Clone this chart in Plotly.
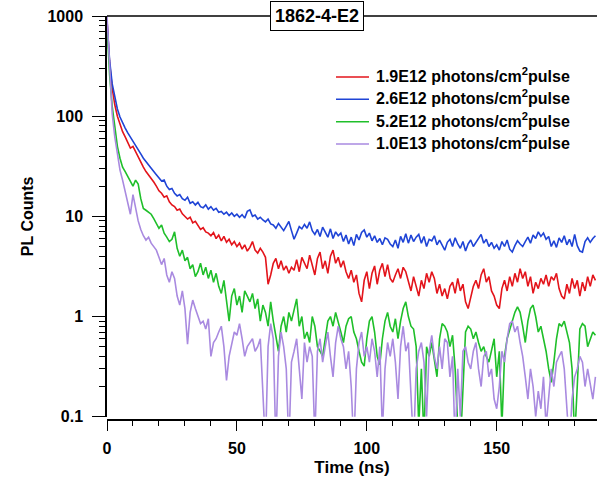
import plotly.graph_objects as go

# ---------------- data ----------------
time_ns = list(range(0, 189))  # 1 ns bins, 0 ... 188 ns

labels = [
    "1.9E12 photons/cm<sup>2</sup>pulse",
    "2.6E12 photons/cm<sup>2</sup>pulse",
    "5.2E12 photons/cm<sup>2</sup>pulse",
    "1.0E13 photons/cm<sup>2</sup>pulse",
]

red_1p9e12 = [
    900, 340, 190, 130, 100, 82, 70, 62, 55, 48,
    50, 44, 40, 35, 31, 28, 26, 24, 22, 20,
    18, 17, 15.5, 16, 14, 13, 12.5, 11.5, 11.8, 10.6,
    10, 9.4, 9.8, 8.6, 8.9, 8.0, 7.4, 7.7, 7.0, 6.8,
    6.4, 6.9, 6.0, 6.5, 5.7, 6.3, 5.5, 5.9, 5.2, 5.6,
    5.0, 5.4, 4.7, 5.2, 4.5, 4.9, 5.6, 4.6, 4.3, 4.8,
    4.4, 3.9, 2.1, 2.6, 3.4, 3.8, 3.0, 3.6, 2.9, 3.2,
    2.7, 3.1, 2.9, 3.7, 2.8, 3.9, 3.4, 3.0, 4.1, 3.3,
    2.6, 3.8, 4.4, 3.0, 3.6, 2.7, 4.0, 4.6, 3.4, 3.9,
    3.1, 3.6, 2.8, 2.4, 2.9, 2.2, 2.6, 1.7, 1.4, 2.3,
    2.8, 1.9, 2.7, 3.2, 2.1, 2.9, 3.4, 2.5, 3.3, 2.4,
    2.2, 2.6, 3.0, 2.4, 3.1, 2.8, 2.2, 1.8, 2.5, 2.0,
    1.6, 2.3, 1.9, 2.7, 2.2, 2.8, 2.4, 1.7, 2.1, 1.6,
    1.9, 1.5, 2.0, 2.2, 1.7, 2.4, 1.8, 2.1, 1.4, 1.2,
    1.6, 2.0, 2.3, 1.9, 2.6, 3.0, 2.2, 2.5, 1.8, 1.6,
    1.3, 1.2, 1.9, 2.3, 1.8, 2.5, 2.0, 2.7, 2.2, 3.0,
    2.4, 2.8, 2.0, 2.5, 1.7, 2.2, 1.9, 2.4, 2.1, 2.6,
    2.0, 2.5, 2.3, 2.7, 1.9, 1.6, 1.5, 2.1, 1.7, 2.4,
    1.9, 2.3, 1.6, 2.2, 1.8, 2.5, 2.0, 2.6, 2.3,
]

blue_2p6e12 = [
    900, 360, 210, 150, 118, 98, 85, 76, 68, 62,
    57, 52, 46, 42, 38, 35, 33, 30, 28, 26,
    24, 22.5, 23, 20, 18.5, 19, 17, 16, 16.5, 15,
    14.5, 15.5, 13.5, 14, 13, 13.8, 12.5, 12.2, 13, 11.8,
    12.5, 11.5, 12, 11, 11.2, 10.5, 11, 10.2, 10.8, 10,
    10.5, 9.8, 10.4, 9.6, 11.2, 11.6, 10, 10.3, 9.4, 9.8,
    9.2, 8.8, 9.4, 8.4, 8.2, 7.6, 8.5, 7.8, 7.2, 8.0,
    8.9, 7.2, 5.9, 6.8, 7.9, 7.5, 8.3, 7.6, 8.8, 7.2,
    6.6, 7.4, 6.3, 7.8, 6.9, 6.2, 7.5, 6.0, 7.0, 6.4,
    6.8, 5.6, 6.5, 5.3, 6.2, 5.1, 6.6, 5.8, 6.9, 7.3,
    6.2, 6.8, 5.7, 6.4, 5.5, 6.0, 5.2, 6.1, 5.9, 5.3,
    5.0, 5.8, 4.8, 6.3, 5.5, 6.7, 5.4, 6.5, 5.6, 6.2,
    6.6, 5.4, 6.3, 5.0, 5.9, 5.7, 6.4, 5.2, 5.8, 5.1,
    4.6, 5.5, 5.9, 5.0, 6.1, 5.3, 4.8, 5.6, 4.5, 5.3,
    5.8, 5.0, 5.5, 6.0, 6.6, 5.4, 5.9, 5.0, 5.5, 4.8,
    5.2, 4.6, 5.6, 5.0, 5.8, 4.7, 4.4, 5.1, 5.7, 5.3,
    5.0, 5.6, 6.2, 5.4, 6.5, 6.0, 7.0, 6.3, 6.8, 5.9,
    6.3, 5.0, 5.7, 4.9, 6.1, 5.5, 6.4, 5.2, 5.9, 5.0,
    6.6, 5.1, 4.5, 4.4, 5.6, 6.1, 5.5, 6.0, 6.4,
]

green_5p2e12 = [
    800, 260, 125, 78, 50, 38, 31, 28, 25, 22,
    20, 23, 21, 15, 12, 11.5, 11, 10.5, 9.5, 8.4,
    7.6, 8.2, 6.8, 6.2, 5.6, 5.9, 7.0, 4.8, 4.0, 4.6,
    3.6, 3.9, 3.0, 3.3, 2.5, 2.8, 3.4, 2.6, 3.1, 2.4,
    2.9, 2.2, 2.7, 2.0, 1.7, 2.3, 1.4, 0.9, 1.6, 1.9,
    1.3, 1.6, 1.1, 1.8, 1.6, 1.4, 1.7, 1.2, 1.5, 0.9,
    1.3, 1.1, 0.8, 1.4, 0.9, 0.6, 0.45, 0.8, 1.0, 0.7,
    1.1, 0.9, 1.2, 1.5, 0.8, 1.0, 0.6, 0.7, 0.55, 1.0,
    0.8, 0.5, 0.45, 0.4, 0.6, 0.9, 1.0, 0.8, 1.1, 0.9,
    0.7, 0.55, 0.8, 0.95, 1.0, 0.7, 0.6, 0.45, 0.35, 0.32,
    0.6, 0.9, 1.0, 0.7, 0.4, 0.33, 0.6, 0.9, 1.1, 0.8,
    0.7, 0.95, 0.6, 0.9, 1.2, 1.4, 1.0, 0.8, 0.75, 0.5,
    0.08, 0.3, 0.06, 0.5, 0.4, 0.55, 0.35, 0.25, 0.6, 0.85,
    0.8, 0.7, 0.5, 0.65, 0.3, 0.08, 0.05, 0.2, 0.7, 0.8,
    0.75, 0.6, 0.7, 0.55, 0.45, 0.5, 0.4, 0.35, 0.45, 0.6,
    0.25, 0.45, 0.08, 0.4, 0.6, 0.75, 0.9, 1.1, 1.25, 1.1,
    0.8, 0.55, 0.9, 1.2, 1.3, 1.0, 0.7, 0.8, 0.6, 0.45,
    0.3, 0.22, 0.35, 0.6, 0.85, 0.8, 0.9, 0.7, 0.55, 0.3,
    0.06, 0.2, 0.75, 0.85, 0.8, 0.5, 0.6, 0.7, 0.65,
]

purple_1p0e13 = [
    1000, 300, 105, 62, 40, 29, 23, 18, 14, 10.5,
    16.5, 12, 9, 7.4, 6.4, 5.8, 6.2, 5.4, 5.0, 4.6,
    3.9, 3.3, 3.8, 2.6, 2.2, 2.8, 2.4, 1.6, 1.3, 1.8,
    1.2, 0.53, 1.1, 1.46, 1.2, 1.0, 0.85, 0.9, 0.75, 0.95,
    0.4, 0.55, 0.6, 0.7, 0.8, 0.5, 0.23, 0.4, 0.55, 0.7,
    0.65, 0.85, 0.6, 0.4, 0.5, 0.55, 0.6, 0.45, 0.5, 0.6,
    0.2, 0.05, 0.5, 0.85, 0.6, 0.05, 0.4, 0.7, 0.5, 0.3,
    0.05, 0.35, 0.45, 0.6, 0.3, 0.15, 0.55, 0.35, 0.5, 0.4,
    0.06, 0.45, 0.6, 0.35, 0.5, 0.7, 0.4, 0.25, 0.55, 0.8,
    0.6, 0.5, 0.3, 0.45, 0.2, 0.05, 0.3, 0.55, 0.7, 0.4,
    0.5, 0.35, 0.6, 0.45, 0.25, 0.5, 0.07, 0.3, 0.55, 0.4,
    0.6, 0.35, 0.15, 0.5, 0.8, 0.45, 0.55, 0.2, 0.05, 0.3,
    0.45, 0.55, 0.35, 0.1, 0.45, 0.65, 0.4, 0.3, 0.5, 0.3,
    0.6, 0.55, 0.25, 0.4, 0.05, 0.3, 0.1, 0.45, 0.5, 0.35,
    0.3, 0.45, 0.55, 0.3, 0.2, 0.4, 0.45, 0.25, 0.3, 0.15,
    0.12, 0.2, 0.45, 0.35, 0.6, 0.85, 0.9, 0.7, 0.8, 0.55,
    0.4, 0.25, 0.15, 0.3, 0.2, 0.1, 0.18, 0.12, 0.25, 0.08,
    0.15, 0.3, 0.2, 0.35, 0.4, 0.45, 0.3, 0.12, 0.05, 0.15,
    0.25, 0.3, 0.4, 0.35, 0.2, 0.3, 0.22, 0.15, 0.25,
]

series = [red_1p9e12, blue_2p6e12, green_5p2e12, purple_1p0e13]
colors = ["#e3141b", "#1f44d6", "#1fbf2a", "#a98ae0"]

sample_title = "1862-4-E2"
x_title = "Time (ns)"
y_title = "PL Counts"
y_tickvals = [0.1, 1, 10, 100, 1000]
y_ticktext = ["0.1", "1", "10", "100", "1000"]

# ---------------- figure ----------------
FONT = "Liberation Sans, Arial, Helvetica, sans-serif"
W, H = 597, 477
ML, MR, MT, MB = 107, 0, 16, 57
PW, PH = W - ML - MR, H - MT - MB


def px_x(px):
    return (px - ML) / PW


def px_y(py):
    return (H - MB - py) / PH


fig = go.Figure()
for name, ys, col in zip(labels, series, colors):
    fig.add_trace(go.Scatter(
        x=time_ns, y=ys, mode="lines", name=name,
        line=dict(color=col, width=1.6),
    ))

fig.update_layout(
    width=W, height=H,
    margin=dict(l=ML, r=MR, t=MT, b=MB),
    paper_bgcolor="white", plot_bgcolor="white",
    font=dict(family=FONT, size=16, color="black", weight="bold"),
    showlegend=False,
    xaxis=dict(
        range=[0, 188.6], anchor="free", position=0,
        showgrid=False, zeroline=False,
        showline=True, linecolor="black", linewidth=1.5,
        ticks="outside", ticklen=10, tickwidth=1.2, tickcolor="black",
        tickmode="array", tickvals=[0, 50, 100, 150],
        ticklabelstandoff=4,
        minor=dict(ticks="outside", ticklen=5, tickwidth=1.2,
                   tickcolor="black", dtick=10, tick0=0, showgrid=False),
        title=dict(text=x_title, standoff=5,
                   font=dict(family=FONT, size=17, weight="bold")),
        tickfont=dict(family=FONT, size=16, weight="bold"),
    ),
    yaxis=dict(
        type="log", range=[-1, 3], domain=[0.0082, 1],
        showgrid=False, zeroline=False,
        showline=True, linecolor="black", linewidth=1.5,
        ticks="outside", ticklen=13, tickwidth=1.2, tickcolor="black",
        tickmode="array", tickvals=y_tickvals, ticktext=y_ticktext,
        ticklabelstandoff=6,
        minor=dict(ticks="outside", ticklen=6, tickwidth=1.0,
                   tickcolor="black", dtick="D1", showgrid=False),
        title=dict(text=y_title, standoff=10,
                   font=dict(family=FONT, size=16, weight="bold")),
        tickfont=dict(family=FONT, size=16, weight="bold"),
    ),
)

# top frame line
fig.add_shape(type="line", xref="paper", yref="paper",
              x0=0, x1=1, y0=1, y1=1,
              line=dict(color="black", width=1.5), layer="above")

# legend (drawn as annotations + sample lines for exact spacing)
legend_rows_px = [77, 99.3, 121.7, 144]
for lab, col, ry in zip(labels, colors, legend_rows_px):
    fig.add_shape(type="line", xref="paper", yref="paper",
                  x0=px_x(336), x1=px_x(369), y0=px_y(ry), y1=px_y(ry),
                  line=dict(color=col, width=1.6))
    fig.add_annotation(
        text=lab, xref="paper", yref="paper",
        x=px_x(374), y=px_y(ry - 2), xanchor="left", yanchor="middle",
        showarrow=False,
        font=dict(family=FONT, size=16, color="black", weight="bold"),
    )

# sample label box
fig.add_annotation(
    text=sample_title, xref="paper", yref="paper",
    x=px_x(317), y=1.0, xanchor="center", yanchor="middle",
    showarrow=False, bgcolor="white", bordercolor="black",
    borderwidth=1, borderpad=4,
    font=dict(family=FONT, size=18, color="black", weight="bold"),
)

fig.write_html("out.html")
